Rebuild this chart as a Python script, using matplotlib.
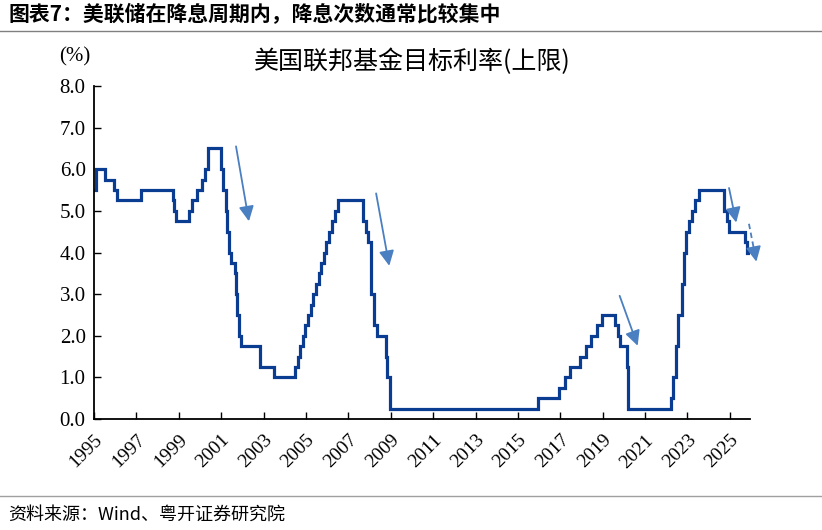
import numpy as np
import pandas as pd
import matplotlib.pyplot as plt
from matplotlib.lines import Line2D

plt.rcParams['font.family'] = ['Liberation Serif', 'Noto Sans CJK SC']

# fed funds target rate (upper bound), change dates and new levels
dates = ["1995-01-01", "1995-02-01", "1995-07-06", "1995-12-19", "1996-01-31",
         "1997-03-25", "1998-09-29", "1998-10-15", "1998-11-17", "1999-06-30",
         "1999-08-24", "1999-11-16", "2000-02-02", "2000-03-21", "2000-05-16",
         "2001-01-03", "2001-01-31", "2001-03-20", "2001-04-18", "2001-05-15",
         "2001-06-27", "2001-08-21", "2001-09-17", "2001-10-02", "2001-11-06",
         "2001-12-11", "2002-11-06", "2003-06-25", "2004-06-30", "2004-08-10",
         "2004-09-21", "2004-11-10", "2004-12-14", "2005-02-02", "2005-03-22",
         "2005-05-03", "2005-06-30", "2005-08-09", "2005-09-20", "2005-11-01",
         "2005-12-13", "2006-01-31", "2006-03-28", "2006-05-10", "2006-06-29",
         "2007-09-18", "2007-10-31", "2007-12-11", "2008-01-22", "2008-01-30",
         "2008-03-18", "2008-04-30", "2008-10-08", "2008-10-29", "2008-12-16",
         "2015-12-16", "2016-12-14", "2017-03-15", "2017-06-14", "2017-12-13",
         "2018-03-21", "2018-06-13", "2018-09-26", "2018-12-19", "2019-07-31",
         "2019-09-18", "2019-10-30", "2020-03-03", "2020-03-15", "2022-03-16",
         "2022-05-04", "2022-06-15", "2022-07-27", "2022-09-21", "2022-11-02",
         "2022-12-14", "2023-02-01", "2023-03-22", "2023-05-03", "2023-07-26",
         "2024-09-18", "2024-11-07", "2024-12-18", "2025-09-17", "2025-10-29",
         "2025-12-05"]
rates = [5.50, 6.00, 5.75, 5.50, 5.25,
         5.50, 5.25, 5.00, 4.75, 5.00,
         5.25, 5.50, 5.75, 6.00, 6.50,
         6.00, 5.50, 5.00, 4.50, 4.00,
         3.75, 3.50, 3.00, 2.50, 2.00,
         1.75, 1.25, 1.00, 1.25, 1.50,
         1.75, 2.00, 2.25, 2.50, 2.75,
         3.00, 3.25, 3.50, 3.75, 4.00,
         4.25, 4.50, 4.75, 5.00, 5.25,
         4.75, 4.50, 4.25, 3.50, 3.00,
         2.25, 2.00, 1.50, 1.00, 0.25,
         0.50, 0.75, 1.00, 1.25, 1.50,
         1.75, 2.00, 2.25, 2.50, 2.25,
         2.00, 1.75, 1.25, 0.25, 0.50,
         1.00, 1.75, 2.50, 3.25, 4.00,
         4.50, 4.75, 5.00, 5.25, 5.50,
         5.00, 4.75, 4.50, 4.25, 4.00,
         4.00]
tick_years = list(range(1995, 2026, 2))
yticks = [0, 1, 2, 3, 4, 5, 6, 7, 8]

# trend arrows (start, end) in year / percent
arrows = [((2001.70, 6.55), (2002.31, 4.75)),
          ((2008.31, 5.42), (2008.93, 3.68)),
          ((2019.80, 2.96), (2020.65, 1.76)),
          ((2024.96, 5.55), (2025.30, 4.72))]
dash_arrow = ((2025.90, 4.69), (2026.25, 3.78))

d = pd.to_datetime(dates)
x = d.year + (d.dayofyear - 1) / 365.25

fig = plt.figure(figsize=(8.22, 5.30), dpi=100)
ax = fig.add_axes([94 / 822, 1 - 419 / 530, 656 / 822, 333 / 530])

ax.step(x, rates, where='post', color='#0a3d91', lw=2.3, solid_joinstyle='miter')

blue = '#4a7fc1'
head = '-|>,head_length=0.9,head_width=0.45'
for (x0, y0), (x1, y1) in arrows:
    ax.annotate('', xy=(x1, y1), xytext=(x0, y0), annotation_clip=False,
                arrowprops=dict(arrowstyle=head, color=blue, lw=1.3,
                                mutation_scale=10, shrinkA=0, shrinkB=0))
# dashed shaft + solid head
(x0, y0), (x1, y1) = dash_arrow
t = 0.5
xm, ym = x0 + t * (x1 - x0), y0 + t * (y1 - y0)
ax.plot([x0, xm], [y0, ym], color=blue, lw=1.3, ls=(0, (3, 2)), clip_on=False)
ax.annotate('', xy=(x1, y1), xytext=(xm, ym), annotation_clip=False,
            arrowprops=dict(arrowstyle=head, color=blue, lw=1.3,
                            mutation_scale=10, shrinkA=0, shrinkB=0))

ax.set_xlim(1995, 2025.95)
ax.set_ylim(0, 8)
ax.set_yticks(yticks)
ax.set_yticklabels([f"{v:.1f}" for v in yticks], fontsize=15)
ax.set_xticks(tick_years)
ax.set_xticklabels([str(v) for v in tick_years], fontsize=14, rotation=45,
                   ha='right', va='top', rotation_mode='anchor')
ax.tick_params(direction='in', length=5, width=1, colors='black', pad=6)
ax.tick_params(axis='x', pad=9)
for s in ['top', 'right']:
    ax.spines[s].set_visible(False)
for s in ['left', 'bottom']:
    ax.spines[s].set_linewidth(1.3)

fig.text(412 / 822, 1 - 62 / 530, "美国联邦基金目标利率(上限)", fontsize=18,
         family=['Noto Sans CJK SC'], ha='center', va='center')
fig.text(75 / 822, 1 - 57 / 530, "(%)", fontsize=15, ha='center', va='center')

fig.text(8 / 822, 1 - 15 / 530, "图表7：美联储在降息周期内，降息次数通常比较集中",
         fontsize=15, fontweight='bold', family=['Noto Sans CJK SC'],
         ha='left', va='center')
fig.add_artist(Line2D([0, 1], [1 - 31 / 530, 1 - 31 / 530], color='#808080', lw=1))
fig.add_artist(Line2D([0, 1], [1 - 496 / 530, 1 - 496 / 530], color='#a0a0a0', lw=1))
fig.text(8 / 822, 1 - 515 / 530, "资料来源：Wind、粤开证券研究院", fontsize=13,
         family=['Noto Sans CJK SC'], style='italic', ha='left', va='center')

fig.savefig("out.png", dpi=100)
